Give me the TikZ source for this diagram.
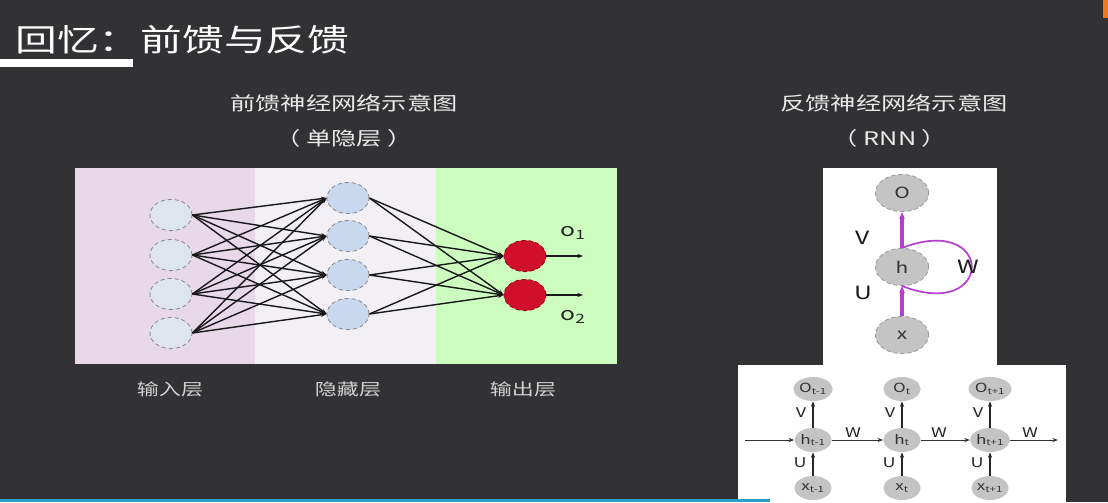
\documentclass[tikz,border=0pt]{standalone}
\usepackage{fontspec}
\setmainfont{Noto Sans CJK SC}[FakeStretch=1.35]
\usepackage{tikz}
\usetikzlibrary{arrows.meta,positioning,shapes.geometric}
\definecolor{slidebg}{RGB}{50,50,53}
\definecolor{inpink}{RGB}{232,216,232}
\definecolor{hidgray}{RGB}{242,240,244}
\definecolor{outgreen}{RGB}{204,252,190}
\definecolor{inblue}{RGB}{221,229,239}
\definecolor{hidblue}{RGB}{200,216,238}
\definecolor{outred}{RGB}{208,16,42}
\definecolor{rnngray}{RGB}{196,196,196}
\definecolor{loopviolet}{RGB}{178,62,210}
\definecolor{barteal}{RGB}{40,160,195}
\definecolor{taborange}{RGB}{235,120,30}

\begin{document}
\begin{tikzpicture}[x=0.025cm, y=-0.025cm,
    title/.style={text=white, font=\fontsize{22}{26}\selectfont, inner sep=0pt},
    subtitle/.style={text=black!8, font=\fontsize{13.3}{16}\selectfont},
    layername/.style={text=black!18, font=\fontsize{11.6}{14}\selectfont},
    unit/.style={ellipse, draw=black!45, densely dashed, line width=0.6pt,
                 minimum width=1.05cm, minimum height=0.78cm, inner sep=0pt},
    wire/.style={-{Stealth[length=4pt,width=3pt]}, line width=1pt, black!90},
    olabel/.style={text=black!85, font=\fontsize{13}{15}\selectfont},
    fnode/.style={ellipse, draw=black!40, densely dashed, fill=rnngray, line width=0.6pt,
                  minimum width=1.33cm, minimum height=0.93cm, inner sep=0pt,
                  text=black!80, font=\fontsize{11}{13}\selectfont},
    parr/.style={-{Stealth[length=5pt,width=4pt]}, line width=2.2pt, loopviolet},
    flabel/.style={text=black!90, font=\fontsize{13}{15}\selectfont},
    unode/.style={ellipse, fill=rnngray, minimum width=0.93cm, minimum height=0.6cm,
                  inner sep=0pt, text=black!80, font=\fontsize{9}{10}\selectfont},
    uarr/.style={-{Stealth[length=4pt,width=3pt]}, line width=1.2pt, black!85},
    harr/.style={-{Stealth[length=4pt,width=3pt]}, line width=0.7pt, black!80},
    ulabel/.style={text=black!85, font=\fontsize{9.5}{11}\selectfont}
  ]
  \useasboundingbox (0,0) rectangle (1108,502);
  \fill[slidebg] (0,0) rectangle (1108,502);

  % title
  \node[title, anchor=west] (ttl) at (15,40) {回忆：前馈与反馈};
  \fill[white] (0,59) rectangle (133,67);

  % feedforward net
  \node[subtitle] (ffa) at (344,103) {前馈神经网络示意图};
  \node[subtitle] (ffb) at (344,138) {（ 单隐层 ）};
  \fill[inpink] (75,168) rectangle (255,364);
  \fill[hidgray] (255,168) rectangle (436,364);
  \fill[outgreen] (436,168) rectangle (617,364);

  \foreach \y [count=\i] in {215,255,294,333}
    \node[unit, fill=inblue] (in\i) at (171,\y) {};
  \foreach \y [count=\i] in {198,236,275,314}
    \node[unit, fill=hidblue] (hid\i) at (348,\y) {};
  \node[unit, fill=outred, draw=outred!70!black] (out1) at (525,256) {};
  \node[unit, fill=outred, draw=outred!70!black] (out2) at (525,295) {};

  \foreach \a in {1,...,4}
    \foreach \b in {1,...,4}
      \draw[wire] (in\a.east) -- (hid\b.west);
  \foreach \b in {1,...,4}
    \foreach \c in {1,2}
      \draw[wire] (hid\b.east) -- (out\c.west);

  \coordinate (e1) at (583,256);
  \coordinate (e2) at (583,295);
  \draw[wire] (out1) -- (e1);
  \draw[wire] (out2) -- (e2);
  \node[olabel] (lo1) at (573,233) {o\textsubscript{1}};
  \node[olabel] (lo2) at (573,317) {o\textsubscript{2}};

  \node[layername] (nin) at (170,389) {输入层};
  \node[layername] (nhid) at (348,389) {隐藏层};
  \node[layername] (nout) at (523,389) {输出层};

  % recurrent net
  \node[subtitle] (rna) at (894,103) {反馈神经网络示意图};
  \node[subtitle] (rnb) at (890,138) {（ RNN ）};
  \fill[white] (823,168) rectangle (997,366);
  \fill[white] (738,365) rectangle (1066,502);

  \node[fnode] (ro) at (902,193) {O};
  \node[fnode] (rh) at (902,267) {h};
  \node[fnode] (rx) at (902,335) {x};
  \draw[parr] (rx) -- (rh);
  \draw[parr] (rh) -- (ro);
  \draw[loopviolet, line width=1.2pt] (rh.north) .. controls (995,212) and (995,322) .. (rh.south);
  \node[flabel] (lv) at (863,238) {V};
  \node[flabel] (lu) at (863,293) {U};
  \node[flabel] (lw) at (968,267) {W};

  \foreach \x/\s [count=\i] in {813/t-1,902/t,990/t+1} {
    \node[unode] (uo\i) at (\x,389) {O\textsubscript{\s}};
    \node[unode] (uh\i) at (\x,440) {h\textsubscript{\s}};
    \node[unode] (ux\i) at (\x,488) {x\textsubscript{\s}};
    \draw[uarr] (uh\i) -- (uo\i);
    \draw[uarr] (ux\i) -- (uh\i);
    \node[ulabel] (uv\i) at (\x-12,413) {V};
    \node[ulabel] (uu\i) at (\x-13,463) {U};
  }
  \coordinate (hin) at (745,440);
  \coordinate (hout) at (1058,440);
  \draw[harr] (hin) -- (uh1);
  \draw[harr] (uh1) -- (uh2);
  \draw[harr] (uh2) -- (uh3);
  \draw[harr] (uh3) -- (hout);
  \node[ulabel] (uw1) at (853,433) {W};
  \node[ulabel] (uw2) at (939,433) {W};
  \node[ulabel] (uw3) at (1030,433) {W};

  % screen edges
  \fill[barteal] (0,499) rectangle (770,502);
  \fill[taborange] (1103,0) rectangle (1108,18);
\end{tikzpicture}
\end{document}
